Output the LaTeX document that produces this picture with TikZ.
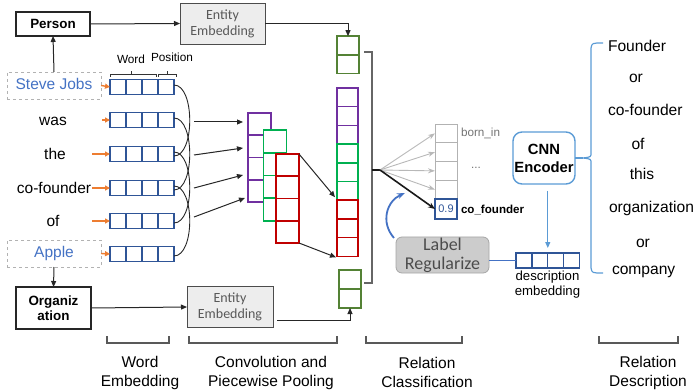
\documentclass[tikz,border=0pt]{standalone}
\usepackage{fontspec}
\setmainfont{Liberation Sans}
\newfontfamily\calfont{Carlito}
\usetikzlibrary{arrows.meta,calc}

\definecolor{vecblue}{HTML}{2F5597}
\definecolor{wordblue}{HTML}{4472C4}
\definecolor{convpurple}{HTML}{7030A0}
\definecolor{convgreen}{HTML}{00B050}
\definecolor{convred}{HTML}{C00000}
\definecolor{entgreen}{HTML}{548235}
\definecolor{arrorange}{HTML}{ED7D31}
\definecolor{encblue}{HTML}{5B9BD5}

\newcommand\fsz[2]{\fontsize{#1}{#2}\selectfont}

\begin{document}
\begin{tikzpicture}[x=1pt,y=-1pt]
\tikzset{
  every node/.style={inner sep=0pt, outer sep=0pt},
  txt/.style={font=\fsz{15.5}{19}, text height=11pt, text depth=3.5pt},
  smalltxt/.style={font=\fsz{11.8}{14}, text height=8.5pt, text depth=2.5pt},
  vcell/.style={draw=vecblue, line width=1.3pt, minimum width=16pt, minimum height=15pt},
  ccell/.style={draw=#1, fill=white, line width=1.6pt, minimum width=23pt},
  scell/.style={draw=#1, line width=1.6pt, minimum width=21pt, minimum height=18.7pt},
  gcell/.style={draw=entgreen, line width=1.6pt, minimum width=22pt, minimum height=18.7pt},
  ocell/.style={draw=black!30, line width=0.8pt, minimum width=22pt, minimum height=18.75pt},
  plainbox/.style={draw=black!85, line width=1.1pt, font=\bfseries\fsz{13.4}{15.5}, align=center},
  entbox/.style={draw=black!70, fill=black!7, line width=0.9pt, minimum height=41pt,
    font=\calfont\fsz{14}{16}, text=black!65, align=center},
  dashbox/.style={draw=black!30, dashed, line width=0.8pt, minimum width=94pt, minimum height=27pt, text=wordblue},
  arr/.style={-{Triangle[length=6pt,width=5pt]}, line width=1pt, draw=black!85},
  oarr/.style={-{Triangle[length=5pt,width=5pt]}, line width=1.4pt, draw=arrorange},
  arcline/.style={line width=0.9pt, draw=black!85},
  brk/.style={line width=1.1pt, draw=black!65},
  garr/.style={-{Stealth[length=7pt,width=5pt]}, line width=0.9pt, draw=black!28},
  barr/.style={-{Stealth[length=7pt,width=5.5pt]}, line width=1.6pt, draw=black!90},
  bluearr/.style={-{Stealth[length=8pt,width=6pt]}, line width=1.8pt, draw=wordblue},
  lbl/.style={font=\fsz{15.5}{19}, align=center},
  rtxt/.style={font=\fsz{15.6}{19}, text height=11pt, text depth=3.5pt},
}
\useasboundingbox (0,0) rectangle (696,390);

% ---- entity boxes ----
\node[plainbox, minimum width=74pt, minimum height=24pt] (person) at (53,24) {Person};
\node[plainbox, minimum width=75pt, minimum height=42pt] (org) at (53.5,308) {Organiz\\ation};
\node[entbox, minimum width=85pt] (ent1) at (222.5,23.5) {Entity\\Embedding};
\node[entbox, minimum width=86pt] (ent2) at (230,307) {Entity\\Embedding};

% ---- input words ----
\node[dashbox, txt] (sj) at (54,85.5) {Steve Jobs};
\node[txt] (w2) at (53,122) {was};
\node[txt] (w3) at (55,156) {the};
\node[txt] (w4) at (54,190) {co-founder};
\node[txt] (w5) at (53,223) {of};
\node[dashbox, txt] (ap) at (54,253.5) {Apple};

% ---- word vectors ----
\foreach \r/\yy in {1/87,2/120,3/154,4/188,5/221,6/254}{
  \foreach \c in {1,...,4}{
    \node[vcell] (v\r-\c) at ({102+16*\c},\yy) {};
  }
}

% word / position brackets
\draw[line width=0.8pt, black!80] (110,77) -- (110,74) -- (156,74) -- (156,77) (131,74) -- (131,71);
\draw[line width=0.8pt, black!80] (158,77) -- (158,74) -- (176,74) -- (176,77) (167,74) -- (167,71);
\node[smalltxt] (wlab) at (131,61) {Word};
\node[smalltxt] (plab) at (172,59) {Position};

% orange input arrows
\draw[oarr] (sj.east) -- (v1-1.west);
\draw[oarr] ($(v2-1.west)+(-8,0)$) -- (v2-1.west);
\draw[oarr] ($(v3-1.west)+(-18,0)$) -- (v3-1.west);
\draw[oarr] ($(v4-1.west)+(-18,0)$) -- (v4-1.west);
\draw[oarr] ($(v5-1.west)+(-18,0)$) -- (v5-1.west);
\draw[oarr] (ap.east) -- (v6-1.west);

% entity links
\draw[arr] (sj.north) -- (person.south);
\draw[arr] (ap.south) -- (org.north);
\draw[arr] (person.east) -- (ent1.west);
\draw[arr] (org.east) -- (ent2.west);

% sliding-window arcs
\foreach \i/\j in {1/3,2/4,3/5,4/6}{
  \draw[arcline] ($(v\i-4.east)+(0,-2)$) .. controls +(21,0) and +(21,0) .. ($(v\j-4.east)+(0,2)$);
}

% ---- convolution feature maps ----
\foreach \i in {1,...,4}{
  \node[ccell=convpurple, minimum height=22.3pt] (pc\i) at (259.5,{113+22.3*(\i-0.5)}) {};
}
\foreach \i in {1,...,4}{
  \node[ccell=convgreen, minimum height=22.75pt] (gc\i) at (275,{130+22.75*(\i-0.5)}) {};
}
\foreach \i in {1,...,4}{
  \node[ccell=convred, minimum height=22.25pt] (rc\i) at (287.5,{154+22.25*(\i-0.5)}) {};
}

% arrows into the convolution
\coordinate (k1) at (194,122); \coordinate (t1) at (243,122);
\coordinate (k2) at (194,155); \coordinate (t2) at (243,148);
\coordinate (k3) at (194,188); \coordinate (t3) at (243,175);
\coordinate (k4) at (194,217); \coordinate (t4) at (245,198);
\foreach \i in {1,...,4}{ \draw[arr] (k\i) -- (t\i); }

% ---- pooled stack ----
\foreach \i/\c in {1/convpurple,2/convpurple,3/convpurple,4/convgreen,5/convgreen,6/convgreen,7/convred,8/convred,9/convred}{
  \node[scell=\c] (s\i) at (347.5,{88+18.7*(\i-0.5)}) {};
}
\node[gcell] (gt1) at (348,45.5) {};
\node[gcell] (gt2) at (348,64.2) {};
\node[gcell, minimum height=19pt] (gb1) at (350,279.5) {};
\node[gcell, minimum height=19pt] (gb2) at (350,298.5) {};

\draw[arr] (rc1.north east) -- ($(s7.north west)+(-2,-3)$);
\draw[arr] (rc4.south east) -- ($(s9.south west)+(-1,1)$);
\draw[arr] (ent1.east) -| (gt1.north);
\draw[arr] ($(ent2.east)+(4,13)$) -| (gb2.south);

% concatenation bracket
\draw[line width=1.2pt, black!60] (364,52) -- (372,52) -- (372,283) -- (364,283);
\coordinate (fan) at (380,170);
\draw[line width=2.2pt, black!90] (372,170) -- (fan);

% ---- relation classification ----
\foreach \i in {1,...,4}{
  \node[ocell] (oc\i) at (446,{124+18.75*(\i-0.5)}) {};
}
\node[draw=vecblue, line width=1.5pt, minimum width=22pt, minimum height=20pt,
      font=\fsz{11}{13}, text=vecblue] (oc5) at (446,209) {0.9};
\foreach \i in {1,...,4}{ \draw[garr] (fan) -- (oc\i.west); }
\draw[barr] (fan) -- (oc5.west);

\node[anchor=west, font=\fsz{11.7}{14}, text=black!55] (bornin) at (461,133.5) {born\_in};
\node[font=\fsz{11.7}{14}, text=black!55] (dots) at (476,168) {...};
\node[anchor=west, font=\bfseries\fsz{11.6}{14}] (cofd) at (461,210) {co\_founder};

% label regularization
\node[draw=black!35, fill=black!20, rounded corners=6pt, line width=0.8pt,
      minimum width=93pt, minimum height=36pt, align=center,
      font=\calfont\fsz{18}{19}, text=black!70] (lr) at (442.5,255) {Label\\Regularize};
\coordinate (bc) at (405,193);
\draw[bluearr] ($(lr.north west)+(-2,1)$) .. controls (380,222) and (387,201) .. (bc);

% ---- relation description ----
\foreach \c in {1,...,4}{
  \node[vcell] (de\c) at ({508+15.9*\c},260.5) {};
}
\node[anchor=north, align=center, font=\fsz{13.2}{15}] (dtext) at (547.5,271) {description\\embedding};
\draw[line width=1.5pt, wordblue] (de1.west) -- (de1.west -| lr.east);

\node[draw=encblue, line width=1.4pt, rounded corners=9pt, minimum width=62pt, minimum height=52pt,
      align=center, font=\bfseries\fsz{14.8}{18}] (cnn) at (544,158) {CNN\\Encoder};
\path (de2.north east |- cnn.south) ++(0,7) coordinate (cnnout);
\draw[-{Triangle[length=6pt,width=5pt]}, line width=1pt, encblue] (cnnout) -- ($(de2.north east)+(0,-5)$);

\coordinate (brtip) at (583,158);
\draw[line width=1.2pt, encblue] (cnn.east) -- (brtip);
\draw[line width=1.2pt, encblue] (603,43) .. controls (592,43) .. (591,48) -- (591,153)
  .. controls (591,157) .. (brtip) .. controls (591,159) .. (591,163) -- (591,268)
  .. controls (592,273) .. (603,273);

\node[rtxt, anchor=west] (r1) at (608,48) {Founder};
\node[rtxt] (r2) at (636,79) {or};
\node[rtxt, anchor=west] (r3) at (608,112) {co-founder};
\node[rtxt] (r4) at (638,146) {of};
\node[rtxt] (r5) at (642,176) {this};
\node[rtxt, anchor=west] (r6) at (609,209) {organization};
\node[rtxt] (r7) at (643,244) {or};
\node[rtxt, anchor=west] (r8) at (612,271) {company};

% ---- stage brackets and captions ----
\draw[brk] (107,336) -- (107,343) -- (169,343) -- (169,336);
\draw[brk] (189,336) -- (189,343) -- (337,343) -- (337,336);
\draw[brk] (366,336) -- (366,343) -- (462,343) -- (462,336);
\draw[brk] (599,336) -- (599,343) -- (678,343) -- (678,336);
\node[lbl] (c1) at (140,372.5) {Word\\Embedding};
\node[lbl] (c2) at (271,372.5) {Convolution and\\Piecewise Pooling};
\node[lbl] (c3) at (427,372.5) {Relation\\Classification};
\node[lbl] (c4) at (648,372.5) {Relation\\Description};
\end{tikzpicture}
\end{document}
